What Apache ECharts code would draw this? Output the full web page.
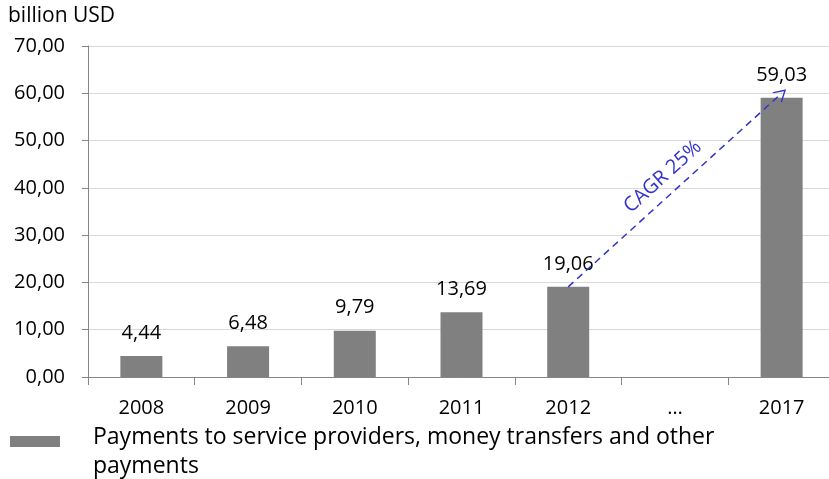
<!DOCTYPE html>
<html>
<head>
<meta charset="utf-8">
<script src="https://cdn.jsdelivr.net/npm/echarts@6/dist/echarts.min.js"></script>
<style>
  html, body { margin: 0; padding: 0; background: #fff; }
  #chart { width: 829px; height: 479px; }
</style>
</head>
<body>
<div id="chart"></div>
<script>
// values
var categories = ['2008', '2009', '2010', '2011', '2012', '…', '2017'];
var payments = [4.44, 6.48, 9.79, 13.69, 19.06, '-', 59.03];
var seriesName = 'Payments to service providers, money transfers and other payments';
var unitLabel = 'billion USD';
var cagrText = 'CAGR 25%';
var cagrFrom = ['2012', 19.06];
var cagrTo = ['2017', 60];

var font = 'Open Sans';
function comma(v) {
  return Number(v).toFixed(2).replace('.', ',');
}

var myChart = echarts.init(document.getElementById('chart'));
var option = {
  animation: false,
  textStyle: { fontFamily: font },
  title: {
    text: unitLabel,
    left: 4,
    top: 6,
    padding: [0, 4],
    textStyle: { fontFamily: font, fontSize: 21, fontWeight: 'normal', color: '#000' }
  },
  legend: {
    left: 10,
    top: 423,
    padding: 0,
    itemWidth: 50,
    itemHeight: 58,
    itemGap: 0,
    selectedMode: false,
    icon: 'path://M0,13L50,13L50,24L0,24Z M0,0L0.01,0L0,0.01Z M0,58L0.01,58L0,58.01Z',
    textStyle: {
      fontFamily: font,
      fontSize: 23,
      color: '#000',
      width: 660,
      overflow: 'break',
      lineHeight: 29,
      padding: [0, 0, 0, 28]
    },
    data: [seriesName]
  },
  grid: {
    left: 88,
    top: 46,
    width: 747,
    height: 331,
    outerBoundsMode: 'none'
  },
  xAxis: {
    type: 'category',
    data: categories,
    axisLine: { lineStyle: { color: '#868686' } },
    axisTick: { show: true, interval: 0, length: 8, lineStyle: { color: '#868686' } },
    axisLabel: { color: '#000', fontSize: 20, margin: 21, interval: 0 }
  },
  yAxis: {
    type: 'value',
    min: 0,
    max: 70,
    interval: 10,
    axisLine: { show: true, lineStyle: { color: '#868686' } },
    axisTick: { show: true, length: 6, lineStyle: { color: '#868686' } },
    splitLine: { lineStyle: { color: '#d9d9d9' } },
    axisLabel: { color: '#000', fontSize: 20, margin: 23, formatter: comma }
  },
  series: [
    {
      name: seriesName,
      type: 'bar',
      data: payments,
      barWidth: 42,
      itemStyle: { color: '#808080' },
      label: {
        show: true,
        position: 'top',
        distance: 13,
        color: '#000',
        fontSize: 20,
        formatter: function (p) { return comma(p.value); }
      },
      markLine: {
        silent: true,
        symbol: ['none', 'path://M0,12L6,0L12,12L10.6,12L6,2.8L1.4,12Z'],
        symbolSize: [14, 12],
        lineStyle: { color: '#3333cc', type: [7, 5], width: 1.5 },
        label: {
          show: true,
          formatter: cagrText,
          position: 'insideMiddleTop',
          distance: 8,
          color: '#3333cc',
          fontSize: 20,
          fontFamily: font
        },
        emphasis: { disabled: true },
        data: [[{ coord: cagrFrom }, { coord: cagrTo }]]
      }
    }
  ]
};
myChart.setOption(option);
window.addEventListener('resize', function () {
  myChart.resize();
});
</script>
</body>
</html>
